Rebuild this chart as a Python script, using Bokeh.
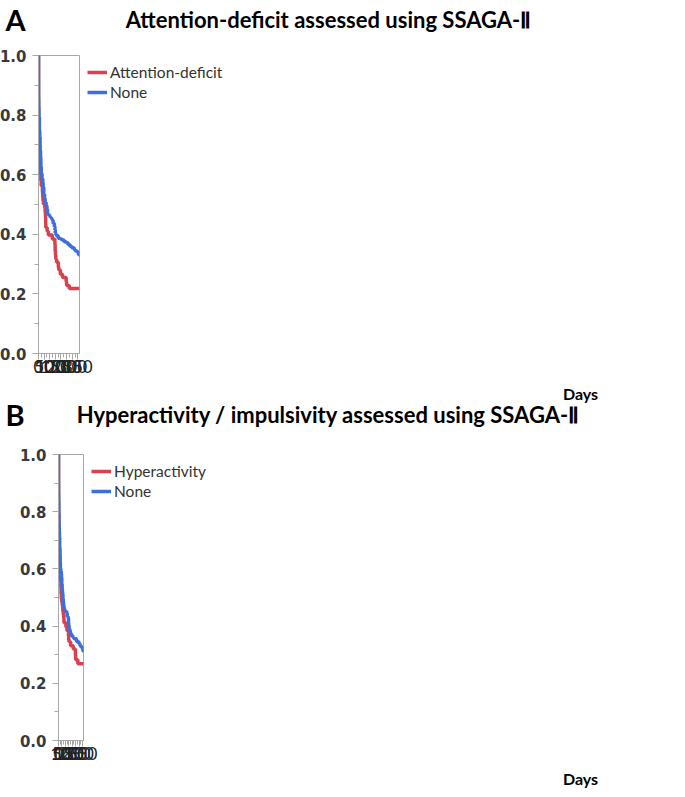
from bokeh.plotting import figure
from bokeh.layouts import column
from bokeh.models import (Range1d, Label, Legend, LegendItem,
                          SingleIntervalTicker, NumeralTickFormatter)
from bokeh.embed import file_html
from bokeh.resources import INLINE

# ---------------- data ----------------
titles = ["Attention-deficit assessed using SSAGA-\u2161",
          "Hyperactivity / impulsivity assessed using SSAGA-\u2161"]
panel_letters = ["A", "B"]
series_names_a = ["Attention-deficit", "None"]
series_names_b = ["Hyperactivity", "None"]
x_label = "Days"
y_label = "Abstinence rate"

# Panel A : Attention-deficit (red)
a_red_days = [0, 0.3, 0.6, 1, 2.5, 4, 7, 11, 13, 17, 18, 21, 24, 35, 37, 40, 44,
              55, 59, 62, 64, 65, 77, 88, 123, 146, 148, 151, 154, 161, 177,
              181, 195, 214, 246, 250, 274, 365]
a_red_rate = [1.0, 0.85, 0.80, 0.76, 0.745, 0.715, 0.698, 0.675, 0.642, 0.63,
              0.603, 0.58, 0.563, 0.541, 0.524, 0.513, 0.502, 0.49, 0.474, 0.46,
              0.435, 0.423, 0.41, 0.398, 0.384, 0.367, 0.345, 0.33, 0.317, 0.306,
              0.289, 0.28, 0.266, 0.255, 0.242, 0.228, 0.218, 0.218]
# Panel A : None (blue)
a_blue_days = [0, 0.3, 0.8, 2, 4, 8, 11, 14, 18, 21, 25, 31, 38, 41, 47, 54, 59,
               68, 75, 80, 86, 97, 104, 111, 118, 124, 130, 141, 146, 149, 153,
               160, 176, 192, 209, 228, 247, 263, 280, 296, 318, 325, 340, 350,
               356, 365]
a_blue_rate = [1.0, 0.92, 0.86, 0.826, 0.793, 0.748, 0.726, 0.681, 0.658, 0.625,
               0.603, 0.586, 0.574, 0.558, 0.535, 0.519, 0.507, 0.496, 0.485,
               0.47, 0.466, 0.461, 0.457, 0.455, 0.451, 0.446, 0.437, 0.426,
               0.415, 0.405, 0.40, 0.395, 0.387, 0.384, 0.381, 0.375, 0.372,
               0.366, 0.36, 0.355, 0.349, 0.345, 0.342, 0.338, 0.331, 0.331]

# Panel B : Hyperactivity (red)
b_red_days = [0, 0.2, 1, 3.5, 6, 10, 13, 17, 20, 24, 26, 30, 35, 38, 41, 48, 55,
              61, 64, 70, 77, 80, 109, 124, 146, 149, 154, 177, 216, 247, 251,
              283, 365]
b_red_rate = [1.0, 0.893, 0.803, 0.77, 0.736, 0.714, 0.674, 0.652, 0.624, 0.602,
              0.58, 0.557, 0.535, 0.512, 0.496, 0.484, 0.473, 0.462, 0.451, 0.44,
              0.428, 0.412, 0.397, 0.384, 0.365, 0.352, 0.345, 0.331, 0.32,
              0.298, 0.282, 0.268, 0.268]
# Panel B : None (blue)
b_blue_days = [0, 0.2, 0.8, 2, 4.6, 7.4, 10, 14, 16, 20, 23, 27, 33, 41, 44, 48,
               53, 57, 61, 64, 69, 72, 76, 80, 86, 91, 110, 121, 127, 141, 146,
               148.6, 154, 157, 165, 173, 184, 209, 225, 263, 266, 299, 315,
               326, 354, 356, 365]
b_blue_rate = [1.0, 0.904, 0.87, 0.837, 0.792, 0.758, 0.73, 0.708, 0.669, 0.647,
               0.624, 0.602, 0.591, 0.58, 0.568, 0.546, 0.529, 0.518, 0.512,
               0.496, 0.488, 0.479, 0.47, 0.465, 0.456, 0.454, 0.451, 0.445,
               0.434, 0.428, 0.412, 0.403, 0.392, 0.39, 0.384, 0.376, 0.367,
               0.361, 0.356, 0.352, 0.345, 0.338, 0.331, 0.327, 0.322, 0.313,
               0.313]

RED = "#d4434f"
BLUE = "#3e6fde"
AXIS_GREY = "#a8a8a8"
FONT = "Lato"
TOTAL_W = 669


def no_align(f):
    if hasattr(f, "frame_align"):
        f.frame_align = False
    return f


def text_fig(h):
    f = figure(width=TOTAL_W, height=h, output_backend="svg",
               toolbar_location=None, title=None,
               x_axis_type=None, y_axis_type=None,
               x_range=Range1d(0, TOTAL_W), y_range=Range1d(0, h),
               min_border=0)
    no_align(f)
    f.grid.visible = False
    f.outline_line_color = None
    return f


def add_title(f, letter, title, ty, title_cx):
    f.add_layout(Label(x=5, y=ty, text=letter, text_font=FONT,
                       text_font_size="29px", text_font_style="bold",
                       text_color="black", text_align="left",
                       text_baseline="middle"))
    f.add_layout(Label(x=title_cx, y=ty, text=title, text_font=FONT,
                       text_font_size="22px", text_font_style="bold",
                       text_color="black", text_align="center",
                       text_baseline="middle"))


def add_days(f, dx, dy):
    f.add_layout(Label(x=dx, y=dy, text=x_label, text_font=FONT,
                       text_font_size="16px", text_font_style="bold",
                       text_color="black", text_align="center",
                       text_baseline="middle"))


def plot_fig(red, blue, names, h, borders, ylab_standoff):
    p = figure(width=TOTAL_W, height=h, output_backend="svg",
               toolbar_location=None, title=None,
               x_range=Range1d(0, 365), y_range=Range1d(0, 1),
               min_border_left=borders[0], min_border_right=borders[1],
               min_border_top=borders[2], min_border_bottom=borders[3])
    no_align(p)
    p.grid.visible = False
    p.outline_line_color = AXIS_GREY
    p.outline_line_width = 1

    r1 = p.step(red[0], red[1], mode="after", line_color=RED, line_width=3.5)
    r2 = p.step(blue[0], blue[1], mode="after", line_color=BLUE,
                line_width=3.5)

    p.xaxis.ticker = SingleIntervalTicker(interval=50, num_minor_ticks=2)
    p.yaxis.ticker = SingleIntervalTicker(interval=0.2, num_minor_ticks=2)
    p.yaxis.formatter = NumeralTickFormatter(format="0.0")
    for ax in (p.xaxis[0], p.yaxis[0]):
        ax.axis_line_color = AXIS_GREY
        ax.major_tick_line_color = AXIS_GREY
        ax.minor_tick_line_color = AXIS_GREY
        ax.major_tick_out = 6
        ax.major_tick_in = 0
        ax.minor_tick_out = 4
        ax.minor_tick_in = 0
    p.xaxis.major_label_text_font = FONT
    p.xaxis.major_label_text_font_size = "17px"
    p.xaxis.major_label_text_color = "#222222"
    p.xaxis.major_label_standoff = 0
    p.yaxis.major_label_text_font = "DejaVu Sans"
    p.yaxis.major_label_text_font_size = "15px"
    p.yaxis.major_label_text_font_style = "bold"
    p.yaxis.major_label_text_color = "#3a3a3a"
    p.yaxis.major_label_standoff = 6
    p.yaxis.axis_label = y_label
    p.yaxis.axis_label_text_font = FONT
    p.yaxis.axis_label_text_font_size = "15px"
    p.yaxis.axis_label_text_font_style = "bold"
    p.yaxis.axis_label_text_color = "black"
    p.yaxis.axis_label_standoff = ylab_standoff

    legend = Legend(items=[LegendItem(label=names[0], renderers=[r1]),
                           LegendItem(label=names[1], renderers=[r2])],
                    location="top_left", padding=0, margin=8, spacing=2,
                    label_height=18, glyph_height=18, glyph_width=20,
                    label_standoff=3, border_line_color=None,
                    background_fill_alpha=0,
                    label_text_font=FONT, label_text_font_size="15.5px",
                    label_text_color="#333333")
    p.add_layout(legend, "right")
    return p


# ---- panel A ----
ta = text_fig(36)
add_title(ta, panel_letters[0], titles[0], ty=17, title_cx=328)
pa = plot_fig((a_red_days, a_red_rate), (a_blue_days, a_blue_rate),
              series_names_a, h=347, borders=(78, 147, 19, 30),
              ylab_standoff=16)

# ---- "Days" of A + title of B ----
tb = text_fig(57)
add_days(tb, 580, 47)
add_title(tb, panel_letters[1], titles[1], ty=26, title_cx=328)

# ---- panel B ----
pb = plot_fig((b_red_days, b_red_rate), (b_blue_days, b_blue_rate),
              series_names_b, h=327, borders=(82, 142, 14, 27),
              ylab_standoff=20)
td = text_fig(22)
add_days(td, 580, 11)

layout = column(column(ta), column(pa), column(tb), column(pb), column(td),
                spacing=0)
open("out.html", "w").write(file_html(layout, INLINE))
